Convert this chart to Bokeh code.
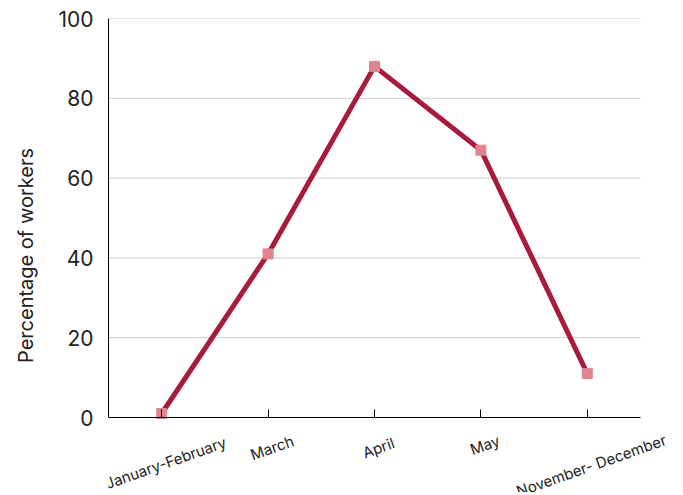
import math
from bokeh.plotting import figure
from bokeh.models import ColumnDataSource, Range1d, Label
from bokeh.embed import file_html
from bokeh.resources import INLINE

categories = ["January-February", "March", "April", "May", "November- December"]
values = [1, 41, 88, 67, 11]
y_ticks = [0, 20, 40, 60, 80, 100]

n = len(categories)
idx = list(range(n))
src = ColumnDataSource(dict(x=idx, y=values, cat=categories))

# layout: 532px for the categories, 27px extra on the right for the last label,
# frame extended below 0 so the rotated category labels are not clipped
unit = 532 / n
px_per_y = 399 / 100
frame_h = 474
x_hi = (n - 0.5) + 27 / unit
y_lo = -(frame_h - 399) / px_per_y

p = figure(x_range=Range1d(-0.5, x_hi), y_range=Range1d(y_lo, 100),
           frame_width=559, frame_height=frame_h,
           output_backend="svg", toolbar_location=None,
           min_border_left=108, min_border_right=0, min_border_top=18, min_border_bottom=0)
p.outline_line_color = None
p.xgrid.visible = False
p.ygrid.visible = False

# horizontal grid lines limited to the category span
gy = y_ticks[1:]
p.segment(x0=[-0.5] * len(gy), x1=[n - 0.5] * len(gy), y0=gy, y1=gy,
          line_color="#cccccc", line_width=1)

p.line("x", "y", source=src, line_color="#a91b3c", line_width=5)
p.scatter("x", "y", source=src, marker="square", size=10, fill_color="#e0848f", line_color="#e0848f")

p.yaxis.ticker = y_ticks
p.yaxis.bounds = (0, 100)
p.yaxis.major_tick_line_color = None
p.yaxis.minor_tick_line_color = None
p.yaxis.axis_line_color = "black"
p.yaxis.major_label_text_font = "Inter"
p.yaxis.major_label_text_font_size = "21px"
p.yaxis.major_label_text_color = "#222222"
p.yaxis.major_label_standoff = 9
p.yaxis.axis_label = "Percentage of workers"
p.yaxis.axis_label_text_font = "Inter"
p.yaxis.axis_label_text_font_size = "20px"
p.yaxis.axis_label_text_font_style = "normal"
p.yaxis.axis_label_text_color = "#222222"
p.yaxis.axis_label_standoff = 17

p.xaxis.fixed_location = 0
p.xaxis.bounds = (-0.5, n - 0.5)
p.xaxis.ticker = idx
p.xaxis.minor_tick_line_color = None
p.xaxis.major_tick_in = 8
p.xaxis.major_tick_out = 0
p.xaxis.major_tick_line_color = "black"
p.xaxis.axis_line_color = "black"
p.xaxis.major_label_overrides = {i: "" for i in idx}
p.xaxis.major_label_text_font_size = "1px"
p.xaxis.major_label_standoff = 0

# rotated category labels, centred on each tick, top of rotated box 15px below axis
angle = 0.34
for i, c in zip(idx, categories):
    w = len(c) * 8.2
    off = -(15 + (w * math.sin(angle) + 18 * math.cos(angle)) / 2)
    p.add_layout(Label(x=i, y=0, text=c, x_offset=4, y_offset=off,
                       angle=angle, text_align="center", text_baseline="middle",
                       text_font="Inter", text_font_size="15px", text_color="#222222"))

open("out.html", "w").write(file_html(p, INLINE))
